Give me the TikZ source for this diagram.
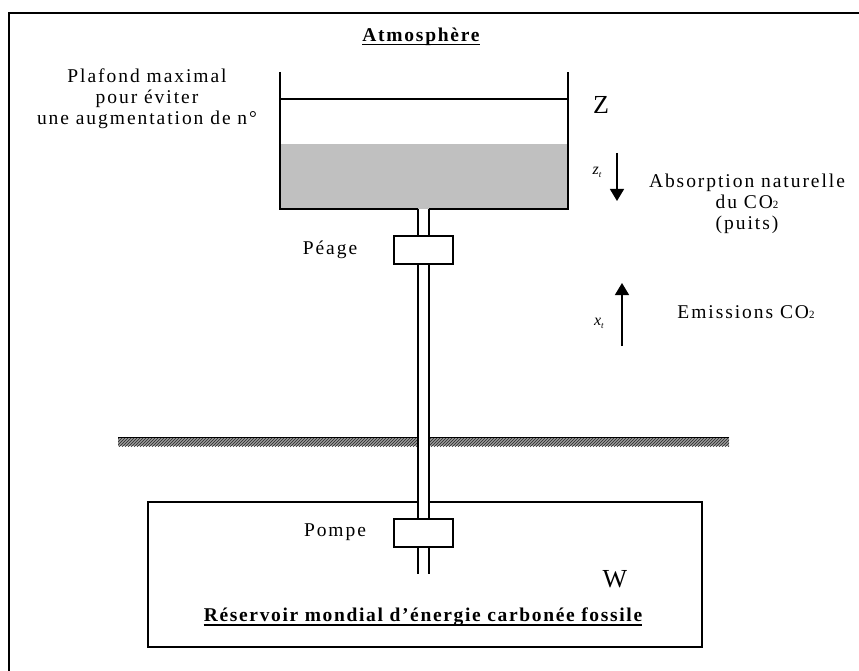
\documentclass[tikz,border=0pt]{standalone}
\usepackage{fontspec}
\setmainfont{Liberation Serif}
\usetikzlibrary{arrows.meta,patterns}
\definecolor{tankgray}{HTML}{C0C0C0}
\begin{document}
\begin{tikzpicture}[x=1pt,y=-1pt,
  lbl/.style={font=\fontsize{19.5}{21}\selectfont\addfontfeature{LetterSpace=10}, align=center, inner sep=0pt},
  ttl/.style={font=\bfseries\fontsize{19.5}{20}\selectfont\addfontfeature{LetterSpace=9}, inner sep=0pt},
  ttlb/.style={font=\bfseries\fontsize{19.5}{20}\selectfont\addfontfeature{LetterSpace=8.5}, inner sep=0pt},
  big/.style={font=\fontsize{26}{28}\selectfont, inner sep=0pt},
  var/.style={font=\fontsize{16}{17}\selectfont, inner sep=0pt},
  wall/.style={line width=1.2pt},
  valve/.style={draw, line width=1.2pt, fill=white, minimum width=59pt, minimum height=28pt, inner sep=0pt},
  flow/.style={line width=1.3pt, -{Triangle[width=14pt,length=12pt]}},
  frame/.style={line width=2.6pt},
  ground/.style={pattern=north east lines, pattern color=black!85}
]
\useasboundingbox (0,0) rectangle (859,671);
% outer frame (open at right and bottom)
\draw[frame] (9,671) -- (9,13) -- (859,13);

% coordinates
\coordinate (tankTL) at (280,72);
\coordinate (tankTR) at (568,72);
\coordinate (pipeLtop) at (418,209);
\coordinate (pipeRtop) at (429,209);
\coordinate (pipeLbot) at (418,574);
\coordinate (pipeRbot) at (429,574);

% tank gray level
\fill[tankgray] (280,144) rectangle (568,209);
% tank walls
\draw[wall] (tankTL) -- (280,209) -- (pipeLtop);
\draw[wall] (pipeRtop) -- (568,209) -- (tankTR);
\draw[wall] (280,99) -- (568,99);

% ground
\fill[black!40] (118,437) rectangle (418,446);
\fill[ground] (118,437) rectangle (418,446);
\fill[black!40] (429,437) rectangle (729,446);
\fill[ground] (429,437) rectangle (729,446);
\draw[line width=1pt] (118,437.5) -- (418,437.5);
\draw[line width=1pt] (429,437.5) -- (729,437.5);

% reservoir box
\draw[wall] (418,502) -- (148,502) -- (148,647) -- (702,647) -- (702,502) -- (429,502);

% pipe
\draw[wall] (pipeLtop) -- (pipeLbot);
\draw[wall] (pipeRtop) -- (pipeRbot);

% valves
\node[valve] (peage) at (423.5,250) {};
\node[valve] (pompe) at (423.5,533) {};

% arrows
\coordinate (zs) at (617,153);
\coordinate (ze) at (617,201);
\coordinate (xs) at (622,346);
\coordinate (xe) at (622,283);
\draw[flow] (zs) -- (ze);
\draw[flow] (xs) -- (xe);

% texts
\node[ttl] (atm) at (421,37) {Atmosphère};
\draw[line width=1.6pt] ([yshift=-3pt]atm.base west) -- ([yshift=-3pt]atm.base east);
\node[lbl] (plafond) at (147,99) {Plafond maximal\\pour éviter\\une augmentation de n°};
\node[big] (Z) at (601,105) {Z};
\node[var] (zt) at (597,172) {\textit{z}{\fontsize{9}{9}\selectfont\raisebox{-3pt}{\textit{t}}}};
\node[lbl] (absorb) at (747,204) {Absorption naturelle\\du CO{\fontsize{11}{11}\selectfont 2}\\(puits)};
\node[lbl] (peagelbl) at (330,250) {Péage};
\node[var] (xt) at (599,323) {\textit{x}{\fontsize{9}{9}\selectfont\raisebox{-3pt}{\textit{t}}}};
\node[lbl] (emis) at (746,312) {Emissions CO{\fontsize{11}{11}\selectfont 2}};
\node[lbl] (pompelbl) at (335,532) {Pompe};
\node[big] (W) at (615,579) {W};
\node[ttlb] (res) at (423,617) {Réservoir mondial d’énergie carbonée fossile};
\draw[line width=1.6pt] ([yshift=-3.5pt]res.base west) -- ([yshift=-3.5pt]res.base east);
\end{tikzpicture}
\end{document}
